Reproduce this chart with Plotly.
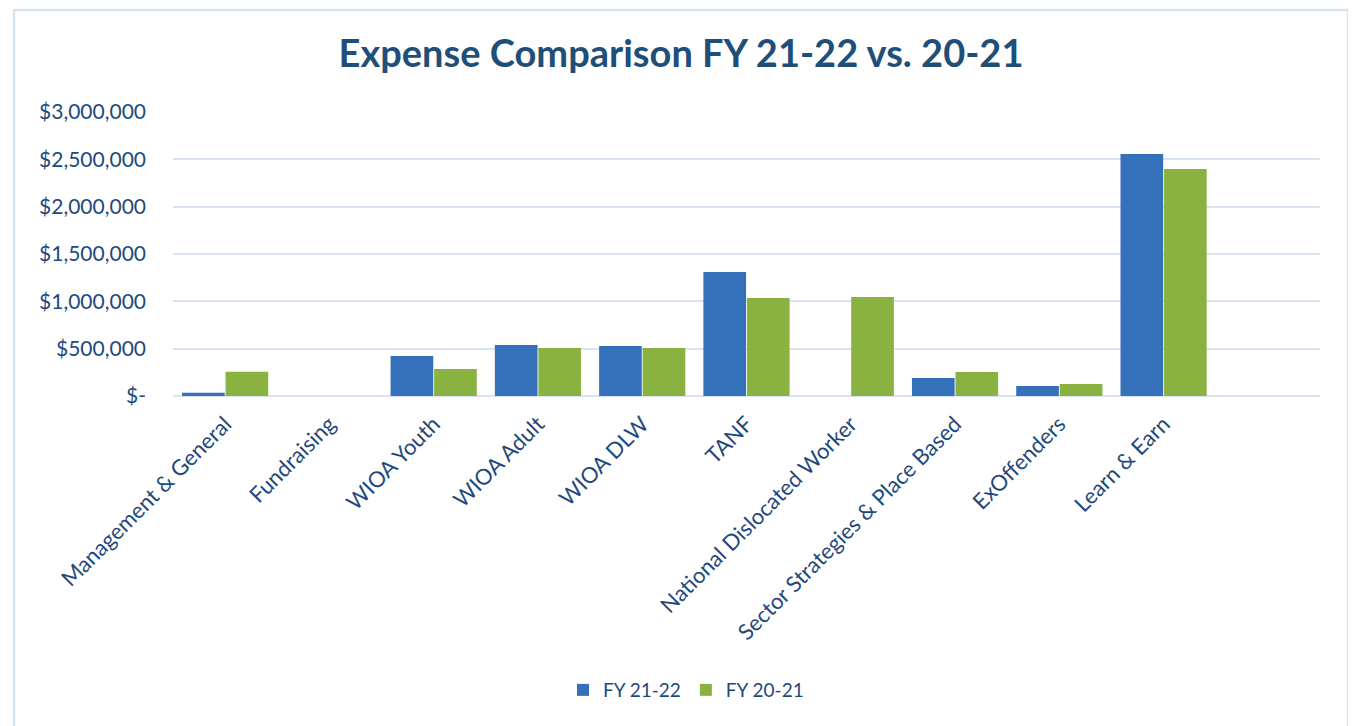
import plotly.graph_objects as go

categories = ["Management & General", "Fundraising", "WIOA Youth", "WIOA Adult", "WIOA DLW",
              "TANF", "National Dislocated Worker", "Sector Strategies & Place Based",
              "ExOffenders", "Learn & Earn", " "]
fy_21_22 = [35000, 0, 423000, 539000, 528000, 1310000, 0, 190000, 106000, 2556000, None]
fy_20_21 = [255000, 0, 285000, 507000, 507000, 1035000, 1045000, 253000, 127000, 2398000, None]
tick_values = [0, 500000, 1000000, 1500000, 2000000, 2500000, 3000000]
tick_labels = ["$-", "$500,000", "$1,000,000", "$1,500,000", "$2,000,000", "$2,500,000", "$3,000,000"]

FONT = "Lato, Calibri, 'Open Sans', sans-serif"
TXT = "#1F497D"
GRID = "#D9E3F3"

fig = go.Figure()
fig.add_trace(go.Bar(x=categories, y=fy_21_22, name="FY 21-22",
                     marker=dict(color="#3570BA", line=dict(width=0))))
fig.add_trace(go.Bar(x=categories, y=fy_20_21, name="FY 20-21",
                     marker=dict(color="#8AB240", line=dict(width=0))))

OFF = 8  # page body margin
W, H = 1356 - OFF, 726 - OFF
L, R, T, B = 173 - OFF, 36, 112 - OFF, 330
pw, ph = W - L - R, H - T - B

def px_x(p):
    return (p - OFF - L) / pw

def px_y(p):
    return (H - B - (p - OFF)) / ph

fig.update_layout(
    width=W, height=H,
    margin=dict(l=L, r=R, t=T, b=B),
    paper_bgcolor="white", plot_bgcolor="white",
    barmode="group", bargap=0.165, bargroupgap=0.02,
    font=dict(family=FONT, color=TXT),
    title=dict(text="<b>Expense Comparison FY 21-22 vs. 20-21</b>",
               x=(681 - OFF) / W, xanchor="center", y=1 - (54 - OFF) / H, yanchor="middle",
               font=dict(size=38, color="#1F4E79", family=FONT)),
    legend=dict(orientation="h", x=px_x(686), xanchor="center", y=px_y(690), yanchor="middle",
                font=dict(size=19, color=TXT), itemwidth=30, traceorder="normal"),
    shapes=[dict(type="rect", xref="paper", yref="paper",
                 x0=px_x(14), x1=px_x(1348), y0=px_y(740), y1=px_y(10),
                 line=dict(color="#D6E3F5", width=2.5), fillcolor="rgba(0,0,0,0)", layer="above")],
)
fig.update_yaxes(range=[0, 3000000], tickvals=tick_values, ticktext=tick_labels,
                 showgrid=True, gridcolor=GRID, gridwidth=2,
                 zeroline=True, zerolinecolor=GRID, zerolinewidth=2,
                 showline=False, ticks="", ticklen=0,
                 tickfont=dict(size=21, color=TXT), ticklabelstandoff=26)
fig.update_xaxes(tickangle=-45, tickfont=dict(size=22, color=TXT), showline=False,
                 showgrid=False, ticks="", ticklabelstandoff=10)

fig.write_html("out.html")
